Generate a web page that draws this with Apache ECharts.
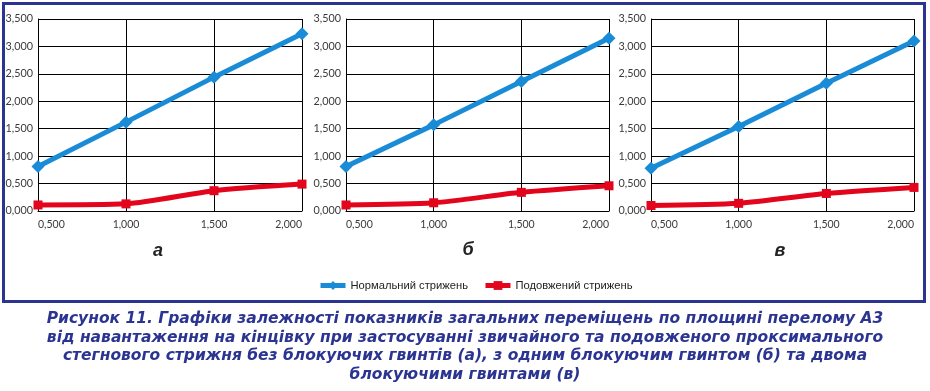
<!DOCTYPE html>
<html>
<head>
<meta charset="utf-8">
<script src="https://cdn.jsdelivr.net/npm/echarts@6/dist/echarts.min.js"></script>
<style>
html,body{margin:0;padding:0;background:#fff;}
#chart{width:930px;height:391px;}
</style>
</head>
<body>
<div id="chart"></div>
<script>
const xValues = [0.5, 1.0, 1.5, 2.0];
const normalA = [0.81, 1.62, 2.44, 3.23];
const extendedA = [0.11, 0.13, 0.37, 0.49];
const normalB = [0.81, 1.57, 2.36, 3.15];
const extendedB = [0.11, 0.15, 0.34, 0.46];
const normalC = [0.78, 1.54, 2.33, 3.10];
const extendedC = [0.10, 0.14, 0.32, 0.43];
const panelLabels = ['а', 'б', 'в'];
const seriesNames = ['Нормальний стрижень', 'Подовжений стрижень'];
const captionLines = [
  'Рисунок 11. Графіки залежності показників загальних переміщень по площині перелому А3',
  'від навантаження на кінцівку при застосуванні звичайного та подовженого проксимального',
  'стегнового стрижня без блокуючих гвинтів (а), з одним блокуючим гвинтом (б) та двома',
  'блокуючими гвинтами (в)'
];

const grids = [
  {left: 38, top: 19, width: 264, height: 192},
  {left: 346, top: 19, width: 263, height: 192},
  {left: 651, top: 19, width: 263, height: 192}
];
const labelPos = [[158, 251], [468, 250], [780, 251]];
const normals = [normalA, normalB, normalC];
const extendeds = [extendedA, extendedB, extendedC];

const fmt = v => v.toFixed(3).replace('.', ',');
const blue = '#1a8bd6';
const red = '#e3051b';

const xAxes = [], yAxes = [], series = [];
grids.forEach((g, i) => {
  xAxes.push({
    gridIndex: i, type: 'value', min: 0.5, max: 2.0, interval: 0.5,
    axisLine: {show: true, lineStyle: {color: '#000', width: 1}},
    axisTick: {show: false},
    splitLine: {show: true, lineStyle: {color: '#000', width: 1}},
    axisLabel: {formatter: fmt, margin: 8, alignMinLabel: 'left', alignMaxLabel: 'right',
      fontFamily: 'Lato', fontSize: 10.5, color: '#3a3a3a'}
  });
  yAxes.push({
    gridIndex: i, type: 'value', min: 0, max: 3.5, interval: 0.5,
    axisLine: {show: true, lineStyle: {color: '#000', width: 1}},
    axisTick: {show: false},
    splitLine: {show: true, lineStyle: {color: '#000', width: 1}},
    axisLabel: {formatter: fmt, margin: 5, fontFamily: 'Lato', fontSize: 10.8, color: '#3a3a3a'}
  });
  series.push({
    name: seriesNames[0], type: 'line', xAxisIndex: i, yAxisIndex: i,
    data: xValues.map((x, k) => [x, normals[i][k]]),
    symbol: 'diamond', symbolSize: 13, clip: false,
    lineStyle: {color: blue, width: 5}, itemStyle: {color: blue}
  });
  series.push({
    name: seriesNames[1], type: 'line', xAxisIndex: i, yAxisIndex: i,
    data: xValues.map((x, k) => [x, extendeds[i][k]]),
    symbol: 'rect', symbolSize: 9, clip: false, smooth: 0.25,
    lineStyle: {color: red, width: 5}, itemStyle: {color: red}
  });
});

const graphics = [
  {type: 'rect', shape: {x: 3.5, y: 3.5, width: 921, height: 298}, style: {fill: 'none', stroke: '#2b3591', lineWidth: 3}, z: 100}
];
panelLabels.forEach((t, i) => {
  graphics.push({type: 'text', x: labelPos[i][0], y: labelPos[i][1], style: {
    text: t, fontFamily: 'Liberation Sans', fontSize: 18, fontWeight: 'bold', fontStyle: 'italic',
    fill: '#222', align: 'center', verticalAlign: 'middle'}});
});
captionLines.forEach((t, i) => {
  graphics.push({type: 'text', x: 465, y: 319 + i * 18.7, style: {
    text: t, fontFamily: 'DejaVu Sans', fontSize: 15.5, fontWeight: 'bold', fontStyle: 'italic',
    fill: '#2b3591', align: 'center', verticalAlign: 'middle'}});
});

const chart = echarts.init(document.getElementById('chart'), null, {renderer: 'canvas'});
chart.setOption({
  animation: false,
  backgroundColor: '#fff',
  grid: grids,
  xAxis: xAxes,
  yAxis: yAxes,
  legend: {
    data: seriesNames, left: 313, top: 275, itemWidth: 25, itemHeight: 11, itemGap: 15,
    lineStyle: {width: 5},
    textStyle: {fontFamily: 'Liberation Sans', fontSize: 11.2, color: '#222'}
  },
  series: series,
  graphic: graphics
});
</script>
</body>
</html>
